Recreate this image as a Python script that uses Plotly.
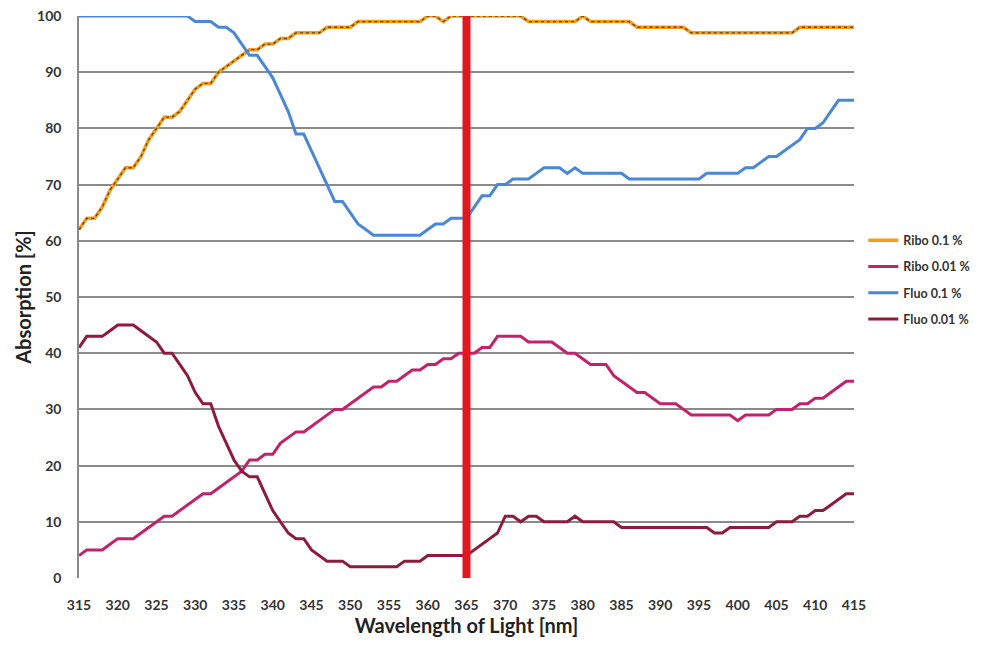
import plotly.graph_objects as go

wavelength = list(range(315, 416))

ribo_01 = [62,64,64,66,69,71,73,73,75,78,80,82,82,83,85,87,88,88,90,91,92,93,94,94,95,95,96,96,97,97,97,97,98,98,98,98,
           99,99,99,99,99,99,99,99,99,100,100,99,100,100,100,100,100,100,100,100,100,100,
           99,99,99,99,99,99,99,100,99,99,99,99,99,99,98,98,98,98,98,98,98,
           97,97,97,97,97,97,97,97,97,97,97,97,97,97,98,98,98,98,98,98,98,98]

ribo_001 = [4,5,5,5,6,7,7,7,8,9,
            10,11,11,12,13,14,15,15,16,17,
            18,19,21,21,22,22,24,25,26,26,
            27,28,29,30,30,31,32,33,34,34,
            35,35,36,37,37,38,38,39,39,40,
            40,40,41,41,43,43,43,43,42,42,
            42,42,41,40,40,39,38,38,38,36,
            35,34,33,33,32,31,31,31,30,29,
            29,29,29,29,29,28,29,29,29,29,
            30,30,30,31,31,32,32,33,34,35,
            35]

fluo_01 = [100]*15 + [99,99,99] + \
          [98,98,97,95,93,93,91,89,86,83,79,79,76,73,70,67,67,65,63,62,61] + [61]*6 + \
          [62,63,63,64,64,64,66,68,68,70,70,71,71,71,72,73,73,73,72,73,72] + [72]*5 + [71]*10 + [72]*4 + \
          [72,73,73,74,75,75,76,77,78,80,80,81,83,85,85,85]

fluo_001 = [41,43,43,43,44,45,45,45,44,43,
            42,40,40,38,36,33,31,31,27,24,
            21,19,18,18,15,12,10,8,7,7,
            5,4,3,3,3,2,2,2,2,2,
            2,2,3,3,3,4,4,4,4,4,
            4,5,6,7,8,11,11,10,11,11,
            10,10,10,10,11,10,10,10,10,10,
            9,9,9,9,9,9,9,9,9,9,
            9,9,8,8,9,9,9,9,9,9,
            10,10,10,11,11,12,12,13,14,15,
            15]

highlight_nm = 365
x_ticks = list(range(315, 416, 5))
y_ticks = list(range(0, 101, 10))

FONT = "Lato"
fig = go.Figure()

fig.add_trace(go.Scatter(x=wavelength, y=ribo_01, mode="lines", name="Ribo 0.1 %",
                         line=dict(color="#F39C1F", width=3.5), legendgroup="a"))
fig.add_trace(go.Scatter(x=wavelength, y=ribo_01, mode="lines", showlegend=False, hoverinfo="skip",
                         line=dict(color="#6b4300", width=1.3, dash="dot"), legendgroup="a"))
fig.add_trace(go.Scatter(x=wavelength, y=ribo_001, mode="lines", name="Ribo 0.01 %",
                         line=dict(color="#C2226C", width=3), legendgroup="b"))
fig.add_trace(go.Scatter(x=wavelength, y=fluo_01, mode="lines", name="Fluo 0.1 %",
                         line=dict(color="#4A87D6", width=3), legendgroup="c"))
fig.add_trace(go.Scatter(x=wavelength, y=fluo_001, mode="lines", name="Fluo 0.01 %",
                         line=dict(color="#8E1B3C", width=3), legendgroup="d"))

fig.add_trace(go.Scatter(x=[highlight_nm, highlight_nm], y=[y_ticks[0], y_ticks[-1]], mode="lines",
                         line=dict(color="#E0181F", width=8), showlegend=False, hoverinfo="skip"))

fig.update_layout(
    width=981, height=645,
    margin=dict(l=79, r=127, t=16, b=67, autoexpand=False),
    paper_bgcolor="white", plot_bgcolor="white",
    font=dict(family=FONT, color="#333333"),
    legend=dict(x=1.012, y=0.627, xanchor="left", yanchor="top",
                font=dict(family=FONT, size=12.5, color="#333333", weight="bold"),
                tracegroupgap=7, traceorder="grouped", itemwidth=30,
                bgcolor="rgba(0,0,0,0)"),
    showlegend=True,
)

fig.update_xaxes(range=[315, 415], tickvals=x_ticks, ticktext=[str(v) for v in x_ticks],
                 showgrid=False, zeroline=False, showline=False, automargin=False,
                 tickfont=dict(family=FONT, size=14, color="#333333", weight="bold"),
                 ticklabelstandoff=17,
                 title=dict(text="Wavelength of Light [nm]", standoff=6,
                            font=dict(family=FONT, size=20, color="#222222", weight="bold")))
fig.update_yaxes(range=[0, 100], tickvals=y_ticks,
                 showgrid=True, gridcolor="#8a8a8a", gridwidth=1.5, automargin=False,
                 zeroline=False, showline=True, linecolor="#8a8a8a", linewidth=1.5,
                 tickfont=dict(family=FONT, size=14, color="#333333", weight="bold"),
                 ticklabelstandoff=13,
                 title=dict(text="Absorption [%]", standoff=0,
                            font=dict(family=FONT, size=20, color="#222222", weight="bold")))

fig.write_html("out.html")
